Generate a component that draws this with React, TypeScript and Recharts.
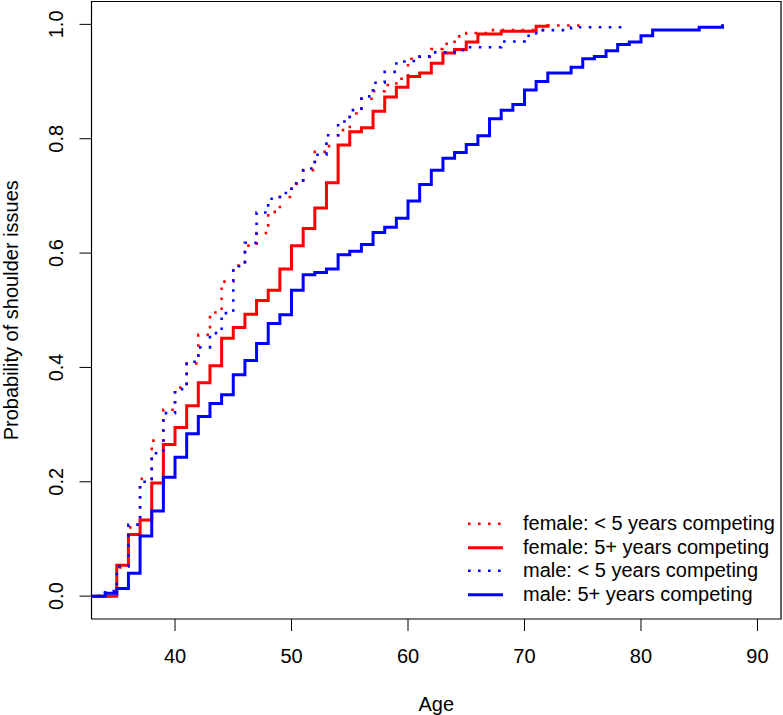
import React from 'react';
import { LineChart, Line, XAxis, YAxis, ReferenceArea, Legend } from 'recharts';

const xTicks = [40, 50, 60, 70, 80, 90];
const yTicks = [0, 0.2, 0.4, 0.6, 0.8, 1.0];
const seriesNames = [
  'female: < 5 years competing',
  'female: 5+ years competing',
  'male: < 5 years competing',
  'male: 5+ years competing',
];

const femaleShortAges = [32.5, 35, 36, 37, 38, 39, 40, 41, 42, 43, 44, 45, 46, 47, 48, 49, 50, 51, 52, 53, 54, 55, 56, 57, 58, 59, 60, 61, 62, 63, 64, 65, 67, 72, 75];
const femaleShortProb = [0, 0.05, 0.12, 0.205, 0.272, 0.326, 0.365, 0.407, 0.457, 0.496, 0.55, 0.578, 0.613, 0.635, 0.672, 0.698, 0.721, 0.745, 0.777, 0.787, 0.815, 0.844, 0.870, 0.883, 0.894, 0.905, 0.94, 0.943, 0.957, 0.966, 0.979, 0.985, 0.99, 0.998, 0.998];

const femaleLongAges = [32.5, 35, 36, 37, 38, 39, 40, 41, 42, 43, 44, 45, 46, 47, 48, 49, 50, 51, 52, 53, 54, 55, 56, 57, 58, 59, 60, 61, 62, 63, 64, 65, 66, 68, 71, 72];
const femaleLongProb = [0, 0.054, 0.108, 0.133, 0.198, 0.265, 0.295, 0.333, 0.373, 0.403, 0.451, 0.47, 0.493, 0.517, 0.535, 0.572, 0.613, 0.643, 0.679, 0.723, 0.789, 0.812, 0.819, 0.848, 0.873, 0.89, 0.909, 0.915, 0.932, 0.95, 0.956, 0.969, 0.983, 0.988, 0.9965, 1.0];

const maleShortAges = [32.5, 34, 35, 36, 37, 38, 39, 40, 41, 42, 43, 44, 45, 46, 47, 48, 49, 50, 51, 52, 53, 54, 55, 56, 57, 58, 59, 60, 61, 62, 64, 65, 68, 70, 71, 74, 78.5];
const maleShortProb = [0, 0.009, 0.052, 0.125, 0.2, 0.25, 0.32, 0.362, 0.41, 0.435, 0.46, 0.495, 0.577, 0.618, 0.671, 0.695, 0.705, 0.722, 0.748, 0.772, 0.806, 0.83, 0.85, 0.874, 0.898, 0.917, 0.935, 0.936, 0.944, 0.951, 0.955, 0.96, 0.97, 0.98, 0.99, 0.995, 0.995];

const maleLongAges = [32.5, 34, 35, 36, 37, 38, 39, 40, 41, 42, 43, 44, 45, 46, 47, 48, 49, 50, 51, 52, 53, 54, 55, 56, 57, 58, 59, 60, 61, 62, 63, 64, 65, 66, 67, 68, 69, 70, 71, 72, 74, 75, 76, 77, 78, 79, 80, 81, 85, 87];
const maleLongProb = [0, 0.005, 0.0134, 0.04, 0.105, 0.149, 0.208, 0.243, 0.284, 0.314, 0.337, 0.352, 0.387, 0.412, 0.442, 0.477, 0.492, 0.535, 0.562, 0.566, 0.572, 0.597, 0.603, 0.615, 0.636, 0.645, 0.661, 0.691, 0.72, 0.745, 0.766, 0.776, 0.79, 0.805, 0.835, 0.85, 0.86, 0.885, 0.9, 0.915, 0.925, 0.94, 0.944, 0.954, 0.965, 0.969, 0.98, 0.99, 0.995, 1.0];

const toData = (ages: number[], probs: number[]) => ages.map((a, i) => ({ age: a, p: probs[i] }));

const FONT = '"Liberation Sans", Arial, Helvetica, sans-serif';
const RED = '#FF0000';
const BLUE = '#0000FF';
const DOT = '2.6 7.4';

const series = [
  { name: seriesNames[0], data: toData(femaleShortAges, femaleShortProb), color: RED, dotted: true },
  { name: seriesNames[1], data: toData(femaleLongAges, femaleLongProb), color: RED, dotted: false },
  { name: seriesNames[2], data: toData(maleShortAges, maleShortProb), color: BLUE, dotted: true },
  { name: seriesNames[3], data: toData(maleLongAges, maleLongProb), color: BLUE, dotted: false },
];

const XTick = (props: any) => (
  <text x={props.x} y={props.y + 32} textAnchor="middle" fontSize={20} fontFamily={FONT} fill="#000">
    {props.payload.value}
  </text>
);

const YTick = (props: any) => {
  const bx = props.x - 16.5;
  return (
    <text x={bx} y={props.y} transform={`rotate(-90, ${bx}, ${props.y})`} textAnchor="middle" fontSize={20} fontFamily={FONT} fill="#000">
      {Number(props.payload.value).toFixed(1)}
    </text>
  );
};

const LegendBox = () => (
  <div style={{ fontFamily: FONT, fontSize: 20, color: '#000' }}>
    {series.map((s) => (
      <div key={s.name} style={{ display: 'flex', alignItems: 'center', height: 23.6, whiteSpace: 'nowrap' }}>
        <svg width={68} height={23.6} style={{ display: 'block' }}>
          <line x1={13} x2={48} y1={11.8} y2={11.8} stroke={s.color} strokeWidth={s.dotted ? 2.6 : 3} strokeDasharray={s.dotted ? DOT : undefined} />
        </svg>
        <span style={{ lineHeight: '23.6px' }}>{s.name}</span>
      </div>
    ))}
  </div>
);

export default function App() {
  return (
    <div style={{ position: 'absolute', left: 0, top: 0, width: 783, height: 715, background: '#fff' }}>
      <LineChart width={783} height={715} margin={{ top: 1.5, right: 2, left: 0, bottom: 0 }}>
        <XAxis
          type="number"
          dataKey="age"
          domain={[32.83, 92.02]}
          allowDataOverflow
          ticks={xTicks}
          tickSize={12}
          tickMargin={0}
          axisLine={false}
          tickLine={{ stroke: '#000', strokeWidth: 1 }}
          tick={XTick}
          height={96}
          label={{
            content: (p: any) => {
              const vb = p.viewBox || { x: 91.5, y: 619, width: 689.5 };
              return (
                <text x={vb.x + vb.width / 2} y={vb.y + 92} textAnchor="middle" fontSize={20} fontFamily={FONT} fill="#000">
                  Age
                </text>
              );
            },
          }}
        />
        <YAxis
          type="number"
          domain={[-0.04, 1.04]}
          allowDataOverflow
          ticks={yTicks}
          tickSize={12}
          tickMargin={0}
          axisLine={false}
          tickLine={{ stroke: '#000', strokeWidth: 1 }}
          tick={YTick}
          width={91.5}
          label={{
            content: (p: any) => {
              const vb = p.viewBox || { x: 0, y: 1.5, height: 617.5 };
              const cx = vb.x + 18;
              const cy = vb.y + vb.height / 2;
              return (
                <text x={cx} y={cy} transform={`rotate(-90, ${cx}, ${cy})`} textAnchor="middle" fontSize={20} fontFamily={FONT} fill="#000">
                  Probability of shoulder issues
                </text>
              );
            },
          }}
        />
        <ReferenceArea x1={32.83} x2={92.02} y1={-0.04} y2={1.04} fill="none" stroke="#000" strokeWidth={1.2} ifOverflow="visible" />
        {series.map((s) => (
          <Line
            key={s.name}
            name={s.name}
            data={s.data}
            dataKey="p"
            type="stepAfter"
            stroke={s.color}
            strokeWidth={s.dotted ? 2.6 : 3}
            strokeDasharray={s.dotted ? DOT : undefined}
            dot={false}
            activeDot={false}
            isAnimationActive={false}
          />
        ))}
        <Legend
          layout="vertical"
          align="center"
          verticalAlign="middle"
          wrapperStyle={{ left: 455, top: 512.2, width: 328, height: 96 }}
          content={() => <LegendBox />}
        />
      </LineChart>
    </div>
  );
}
